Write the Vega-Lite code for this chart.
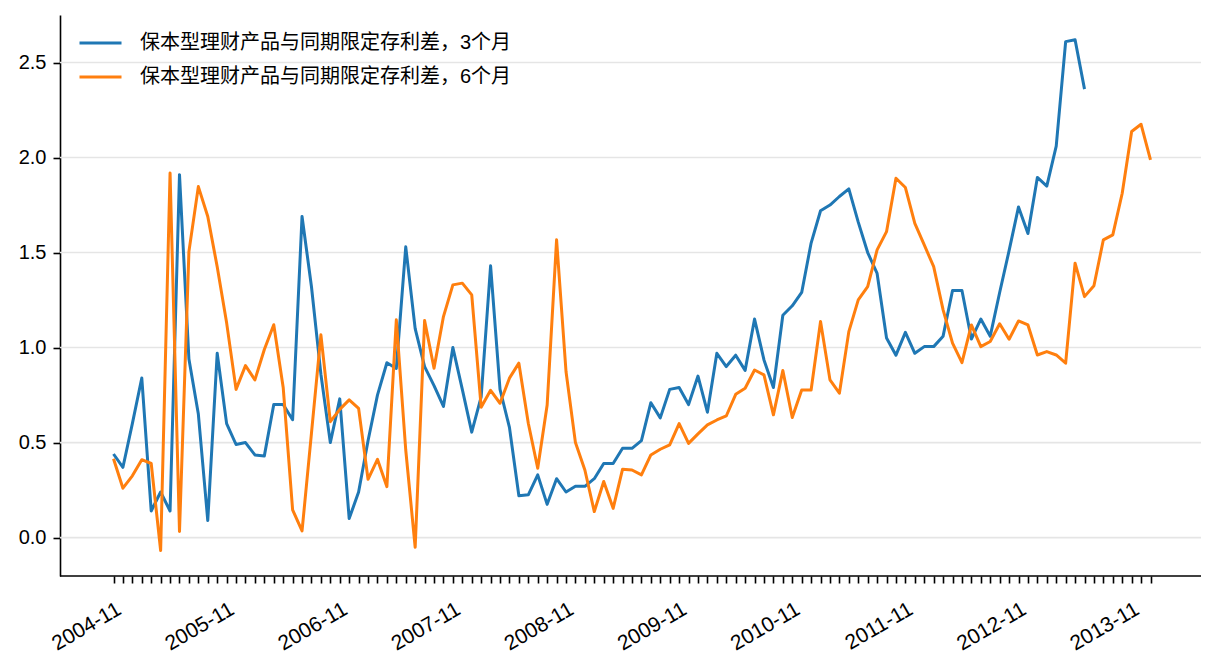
{
  "$schema": "https://vega.github.io/schema/vega-lite/v6.json",
  "width": 1141,
  "height": 561,
  "autosize": "none",
  "padding": {"left": 60, "top": 15, "right": 15, "bottom": 96},
  "background": "white",
  "datasets": {
    "spreads": [
      {"date": "2004-11", "m3": 0.44, "m6": 0.415},
      {"date": "2004-12", "m3": 0.37, "m6": 0.26},
      {"date": "2005-01", "m3": 0.60, "m6": 0.325},
      {"date": "2005-02", "m3": 0.84, "m6": 0.41},
      {"date": "2005-03", "m3": 0.14, "m6": 0.39},
      {"date": "2005-04", "m3": 0.24, "m6": -0.068},
      {"date": "2005-05", "m3": 0.14, "m6": 1.918},
      {"date": "2005-06", "m3": 1.91, "m6": 0.032},
      {"date": "2005-07", "m3": 0.94, "m6": 1.505},
      {"date": "2005-08", "m3": 0.65, "m6": 1.847},
      {"date": "2005-09", "m3": 0.09, "m6": 1.69},
      {"date": "2005-10", "m3": 0.97, "m6": 1.425},
      {"date": "2005-11", "m3": 0.60, "m6": 1.13},
      {"date": "2005-12", "m3": 0.49, "m6": 0.78},
      {"date": "2006-01", "m3": 0.50, "m6": 0.905},
      {"date": "2006-02", "m3": 0.435, "m6": 0.83},
      {"date": "2006-03", "m3": 0.43, "m6": 0.99},
      {"date": "2006-04", "m3": 0.70, "m6": 1.12},
      {"date": "2006-05", "m3": 0.70, "m6": 0.79},
      {"date": "2006-06", "m3": 0.62, "m6": 0.146},
      {"date": "2006-07", "m3": 1.69, "m6": 0.035},
      {"date": "2006-08", "m3": 1.32, "m6": 0.55},
      {"date": "2006-09", "m3": 0.86, "m6": 1.067},
      {"date": "2006-10", "m3": 0.50, "m6": 0.61},
      {"date": "2006-11", "m3": 0.73, "m6": 0.675},
      {"date": "2006-12", "m3": 0.10, "m6": 0.725},
      {"date": "2007-01", "m3": 0.24, "m6": 0.68},
      {"date": "2007-02", "m3": 0.51, "m6": 0.307},
      {"date": "2007-03", "m3": 0.75, "m6": 0.412},
      {"date": "2007-04", "m3": 0.92, "m6": 0.268},
      {"date": "2007-05", "m3": 0.89, "m6": 1.146},
      {"date": "2007-06", "m3": 1.53, "m6": 0.461},
      {"date": "2007-07", "m3": 1.10, "m6": -0.051},
      {"date": "2007-08", "m3": 0.90, "m6": 1.142},
      {"date": "2007-09", "m3": 0.80, "m6": 0.891},
      {"date": "2007-10", "m3": 0.69, "m6": 1.163},
      {"date": "2007-11", "m3": 1.00, "m6": 1.33},
      {"date": "2007-12", "m3": 0.78, "m6": 1.339},
      {"date": "2008-01", "m3": 0.555, "m6": 1.277},
      {"date": "2008-02", "m3": 0.74, "m6": 0.686},
      {"date": "2008-03", "m3": 1.43, "m6": 0.775},
      {"date": "2008-04", "m3": 0.78, "m6": 0.707},
      {"date": "2008-05", "m3": 0.58, "m6": 0.839},
      {"date": "2008-06", "m3": 0.22, "m6": 0.918},
      {"date": "2008-07", "m3": 0.225, "m6": 0.602},
      {"date": "2008-08", "m3": 0.33, "m6": 0.365},
      {"date": "2008-09", "m3": 0.175, "m6": 0.698},
      {"date": "2008-10", "m3": 0.31, "m6": 1.567},
      {"date": "2008-11", "m3": 0.24, "m6": 0.874},
      {"date": "2008-12", "m3": 0.27, "m6": 0.50},
      {"date": "2009-01", "m3": 0.27, "m6": 0.356},
      {"date": "2009-02", "m3": 0.31, "m6": 0.137},
      {"date": "2009-03", "m3": 0.39, "m6": 0.295},
      {"date": "2009-04", "m3": 0.39, "m6": 0.154},
      {"date": "2009-05", "m3": 0.47, "m6": 0.36},
      {"date": "2009-06", "m3": 0.47, "m6": 0.356},
      {"date": "2009-07", "m3": 0.51, "m6": 0.33},
      {"date": "2009-08", "m3": 0.71, "m6": 0.435},
      {"date": "2009-09", "m3": 0.63, "m6": 0.465},
      {"date": "2009-10", "m3": 0.78, "m6": 0.488},
      {"date": "2009-11", "m3": 0.79, "m6": 0.60},
      {"date": "2009-12", "m3": 0.70, "m6": 0.496},
      {"date": "2010-01", "m3": 0.85, "m6": 0.546},
      {"date": "2010-02", "m3": 0.66, "m6": 0.593},
      {"date": "2010-03", "m3": 0.97, "m6": 0.619},
      {"date": "2010-04", "m3": 0.90, "m6": 0.64},
      {"date": "2010-05", "m3": 0.96, "m6": 0.754},
      {"date": "2010-06", "m3": 0.88, "m6": 0.786},
      {"date": "2010-07", "m3": 1.15, "m6": 0.882},
      {"date": "2010-08", "m3": 0.935, "m6": 0.856},
      {"date": "2010-09", "m3": 0.79, "m6": 0.646},
      {"date": "2010-10", "m3": 1.17, "m6": 0.879},
      {"date": "2010-11", "m3": 1.22, "m6": 0.632},
      {"date": "2010-12", "m3": 1.29, "m6": 0.777},
      {"date": "2011-01", "m3": 1.55, "m6": 0.777},
      {"date": "2011-02", "m3": 1.72, "m6": 1.137},
      {"date": "2011-03", "m3": 1.75, "m6": 0.83},
      {"date": "2011-04", "m3": 1.795, "m6": 0.76},
      {"date": "2011-05", "m3": 1.835, "m6": 1.084},
      {"date": "2011-06", "m3": 1.66, "m6": 1.251},
      {"date": "2011-07", "m3": 1.50, "m6": 1.321},
      {"date": "2011-08", "m3": 1.39, "m6": 1.514},
      {"date": "2011-09", "m3": 1.05, "m6": 1.61},
      {"date": "2011-10", "m3": 0.96, "m6": 1.891},
      {"date": "2011-11", "m3": 1.08, "m6": 1.842},
      {"date": "2011-12", "m3": 0.97, "m6": 1.654},
      {"date": "2012-01", "m3": 1.005, "m6": 1.54},
      {"date": "2012-02", "m3": 1.005, "m6": 1.426},
      {"date": "2012-03", "m3": 1.06, "m6": 1.198},
      {"date": "2012-04", "m3": 1.30, "m6": 1.023},
      {"date": "2012-05", "m3": 1.30, "m6": 0.921},
      {"date": "2012-06", "m3": 1.045, "m6": 1.119},
      {"date": "2012-07", "m3": 1.15, "m6": 1.005},
      {"date": "2012-08", "m3": 1.06, "m6": 1.032},
      {"date": "2012-09", "m3": 1.29, "m6": 1.125},
      {"date": "2012-10", "m3": 1.51, "m6": 1.044},
      {"date": "2012-11", "m3": 1.74, "m6": 1.14},
      {"date": "2012-12", "m3": 1.60, "m6": 1.119},
      {"date": "2013-01", "m3": 1.895, "m6": 0.961},
      {"date": "2013-02", "m3": 1.85, "m6": 0.979},
      {"date": "2013-03", "m3": 2.06, "m6": 0.961},
      {"date": "2013-04", "m3": 2.61, "m6": 0.918},
      {"date": "2013-05", "m3": 2.62, "m6": 1.444},
      {"date": "2013-06", "m3": 2.36, "m6": 1.268},
      {"date": "2013-07", "m6": 1.325},
      {"date": "2013-08", "m6": 1.567},
      {"date": "2013-09", "m6": 1.593},
      {"date": "2013-10", "m6": 1.812},
      {"date": "2013-11", "m6": 2.137},
      {"date": "2013-12", "m6": 2.175},
      {"date": "2014-01", "m6": 1.988}
    ],
    "gridlines": [
      {"level": 0}, {"level": 0.5}, {"level": 1}, {"level": 1.5}, {"level": 2}, {"level": 2.5}
    ],
    "baseline": [
      {"level": -0.202}
    ]
  },
  "layer": [
    {
      "data": {"name": "gridlines"},
      "mark": {"type": "rule", "color": "#e5e5e5", "strokeWidth": 1.6},
      "encoding": {
        "y": {
          "field": "level",
          "type": "quantitative",
          "scale": {"domain": [-0.202, 2.75], "nice": false, "zero": false},
          "axis": {
            "title": null,
            "values": [0, 0.5, 1, 1.5, 2, 2.5],
            "format": ".1f",
            "grid": false,
            "labelPadding": 7
          }
        }
      }
    },
    {
      "data": {"name": "spreads"},
      "transform": [
        {"fold": ["m3", "m6"], "as": ["series", "value"]},
        {"filter": {"field": "value", "valid": true}}
      ],
      "mark": {"type": "line", "strokeWidth": 3, "strokeJoin": "round"},
      "encoding": {
        "x": {
          "field": "date",
          "type": "ordinal",
          "scale": {"type": "point", "padding": 0, "range": [53.5, 1090.5]},
          "axis": {
            "title": null,
            "grid": false,
            "domain": false,
            "labelAngle": -30,
            "labelAlign": "right",
            "labelBaseline": "top",
            "labelFontSize": 21,
            "labelPadding": 15,
            "labelDx": -4.5,
            "labelOverlap": false,
            "labelFlush": false,
            "labelBound": false,
            "labelExpr": "slice(datum.label, -2) == '11' ? datum.label : ''"
          }
        },
        "y": {
          "field": "value",
          "type": "quantitative",
          "scale": {"domain": [-0.202, 2.75], "nice": false, "zero": false},
          "axis": {
            "title": null,
            "values": [0, 0.5, 1, 1.5, 2, 2.5],
            "format": ".1f",
            "grid": false,
            "labelPadding": 7
          }
        },
        "color": {
          "field": "series",
          "type": "nominal",
          "scale": {"domain": ["m3", "m6"], "range": ["#1f77b4", "#ff7f0e"]},
          "legend": {
            "title": null,
            "orient": "none",
            "legendX": 18,
            "legendY": 13,
            "direction": "vertical",
            "padding": 0,
            "symbolType": "stroke",
            "symbolSize": 1764,
            "symbolStrokeWidth": 3,
            "clipHeight": 30,
            "rowPadding": 4,
            "labelOffset": 17,
            "labelFont": "Liberation Sans, Noto Sans CJK SC",
            "labelFontSize": 20,
            "labelColor": "black",
            "labelLimit": 700,
            "labelExpr": "datum.label == 'm3' ? '保本型理财产品与同期限定存利差，3个月' : '保本型理财产品与同期限定存利差，6个月'"
          }
        }
      }
    },
    {
      "data": {"name": "baseline"},
      "mark": {"type": "rule", "color": "black", "strokeWidth": 1.6},
      "encoding": {
        "y": {
          "field": "level",
          "type": "quantitative",
          "scale": {"domain": [-0.202, 2.75], "nice": false, "zero": false},
          "axis": {
            "title": null,
            "values": [0, 0.5, 1, 1.5, 2, 2.5],
            "format": ".1f",
            "grid": false,
            "labelPadding": 7
          }
        }
      }
    }
  ],
  "config": {
    "view": {"stroke": null},
    "font": "Liberation Sans",
    "axis": {
      "labelFont": "Liberation Sans",
      "labelFontSize": 20,
      "labelColor": "black",
      "domainColor": "black",
      "domainWidth": 1.6,
      "tickColor": "black",
      "tickWidth": 1.6,
      "tickSize": 7
    }
  }
}
